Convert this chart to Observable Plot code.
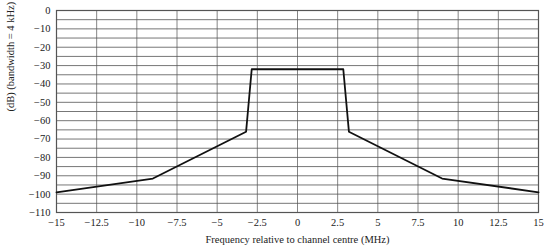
<!DOCTYPE html>
<html><head><meta charset="utf-8">
<script src="https://cdn.jsdelivr.net/npm/d3@7"></script>
<script src="https://cdn.jsdelivr.net/npm/@observablehq/plot@0.6"></script>
<style>body{margin:0;background:#fff}</style>
</head><body><div id="chart"></div>
<script>
const freq = [-15, -9, -3.2, -2.85, 2.85, 3.2, 9, 15];
const level = [-99, -91.5, -66, -32, -32, -66, -91.5, -99];
const xTicks = [-15, -12.5, -10, -7.5, -5, -2.5, 0, 2.5, 5, 7.5, 10, 12.5, 15];
const yTicks = [0, -10, -20, -30, -40, -50, -60, -70, -80, -90, -100, -110];
const yGrid = d3.range(0, -111, -5);
const xLabel = "Frequency relative to channel centre (MHz)";
const yLabel = "(dB) (bandwidth = 4 kHz)";

const data = freq.map((f, i) => ({f, v: level[i]}));
const fmt = d3.format("");

const chart = Plot.plot({
  width: 550, height: 247,
  marginLeft: 56, marginRight: 12, marginTop: 10, marginBottom: 35,
  style: {fontFamily: "'Liberation Serif', serif", fontSize: "10.5px", color: "#222", background: "#fff"},
  x: {domain: [-15, 15]},
  y: {domain: [-110, 0]},
  marks: [
    Plot.gridX(xTicks, {stroke: "#666", strokeOpacity: 0.8, strokeWidth: 1}),
    Plot.gridY(yGrid, {stroke: "#555", strokeOpacity: 0.8, strokeWidth: 1}),
    Plot.frame({stroke: "#555", strokeWidth: 1.2}),
    Plot.axisX(xTicks, {tickSize: 0, tickPadding: 6, tickFormat: fmt, label: xLabel, labelAnchor: "center", labelArrow: "none", labelOffset: 30}),
    Plot.axisY(yTicks, {tickSize: 0, tickPadding: 6, tickFormat: fmt, label: null}),
    Plot.text([yLabel], {frameAnchor: "left", dx: -46, rotate: -90, fontSize: 10.5}),
    Plot.line(data, {x: "f", y: "v", stroke: "#111", strokeWidth: 1.8})
  ]
});
document.getElementById("chart").append(chart);
</script></body></html>
